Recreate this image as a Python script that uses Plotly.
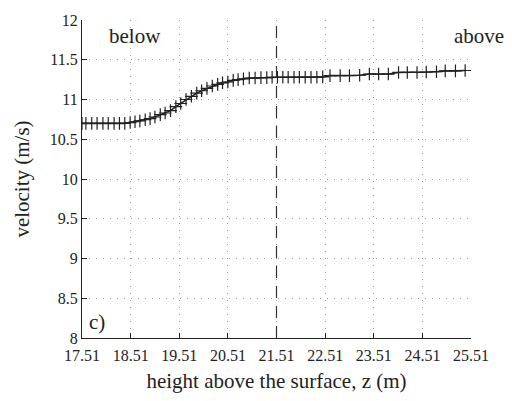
import plotly.graph_objects as go

# height above the surface (m) and mean velocity (m/s)
z = [17.51, 17.59, 17.71, 17.82, 17.94, 18.05, 18.17, 18.28, 18.39, 18.50,
     18.60, 18.70, 18.81, 18.91, 19.01, 19.12, 19.22, 19.33, 19.44, 19.54,
     19.65, 19.76, 19.87, 19.97, 20.08, 20.19, 20.30, 20.40, 20.51, 20.62,
     20.72, 20.83, 20.95, 21.07, 21.19, 21.31, 21.42, 21.53, 21.64, 21.75,
     21.87, 21.98, 22.10, 22.22, 22.34, 22.46, 22.61, 22.82, 23.01, 23.22,
     23.42, 23.61, 23.81, 24.02, 24.20, 24.40, 24.59, 24.80, 24.98, 25.19,
     25.39]
velocity = [10.70, 10.70, 10.70, 10.70, 10.70, 10.70, 10.70, 10.70, 10.70, 10.71,
            10.72, 10.73, 10.745, 10.76, 10.78, 10.81, 10.83, 10.86, 10.91, 10.95,
            11.00, 11.04, 11.08, 11.11, 11.14, 11.17, 11.19, 11.21, 11.22, 11.24,
            11.25, 11.26, 11.27, 11.27, 11.275, 11.275, 11.28, 11.28, 11.28, 11.28,
            11.28, 11.28, 11.28, 11.28, 11.28, 11.285, 11.30, 11.30, 11.30, 11.305,
            11.32, 11.32, 11.32, 11.34, 11.34, 11.34, 11.345, 11.35, 11.36, 11.36,
            11.365]

x_ticks = [17.51, 18.51, 19.51, 20.51, 21.51, 22.51, 23.51, 24.51, 25.51]
x_tick_labels = ["17.51", "18.51", "19.51", "20.51", "21.51", "22.51", "23.51", "24.51", "25.51"]
y_ticks = [8, 8.5, 9, 9.5, 10, 10.5, 11, 11.5, 12]
y_tick_labels = ["8", "8.5", "9", "9.5", "10", "10.5", "11", "11.5", "12"]
surface_z = 21.51

FONT = "Liberation Serif, Times New Roman, serif"

fig = go.Figure()
fig.add_trace(go.Scatter(
    x=z, y=velocity, mode="lines+markers",
    line=dict(color="#222222", width=1.6),
    marker=dict(symbol="cross-thin", size=9, line=dict(color="#222222", width=1.2)),
    showlegend=False,
))

# interface location
fig.add_shape(type="line", x0=surface_z, x1=surface_z, y0=8, y1=12,
              xref="x", yref="y",
              line=dict(color="#333333", width=1.2, dash="12px,8px"))

fig.add_annotation(x=0.065, y=0.95, xref="paper", yref="paper", text="below",
                   showarrow=False, xanchor="left", yanchor="middle",
                   font=dict(family=FONT, size=21, color="#222"))
fig.add_annotation(x=1.09, y=0.95, xref="paper", yref="paper", text="above",
                   showarrow=False, xanchor="right", yanchor="middle",
                   font=dict(family=FONT, size=21, color="#222"))
fig.add_annotation(x=0.012, y=0.05, xref="paper", yref="paper", text="c)",
                   showarrow=False, xanchor="left", yanchor="middle",
                   font=dict(family=FONT, size=21, color="#222"))

axis_common = dict(
    showline=True, linecolor="#222", linewidth=1.2, mirror=False,
    ticks="inside", ticklen=5, tickcolor="#222", tickwidth=1,
    showgrid=True, gridcolor="#9a9a9a", griddash="1px,6px", gridwidth=1,
    zeroline=False,
    tickfont=dict(family=FONT, size=16, color="#222"),
)

fig.update_xaxes(
    range=[17.51, 25.51], tickvals=x_ticks, ticktext=x_tick_labels,
    ticklabelstandoff=3,
    title=dict(text="height above the surface, z (m)", standoff=10,
               font=dict(family=FONT, size=21, color="#222")),
    **axis_common,
)
fig.update_yaxes(
    range=[8, 12], tickvals=y_ticks, ticktext=y_tick_labels,
    title=dict(text="velocity (m/s)", standoff=14,
               font=dict(family=FONT, size=21, color="#222")),
    **axis_common,
)

fig.update_layout(
    width=512, height=401,
    margin=dict(l=82, r=41, t=16, b=55),
    paper_bgcolor="white", plot_bgcolor="white",
)

fig.write_html("out.html")
